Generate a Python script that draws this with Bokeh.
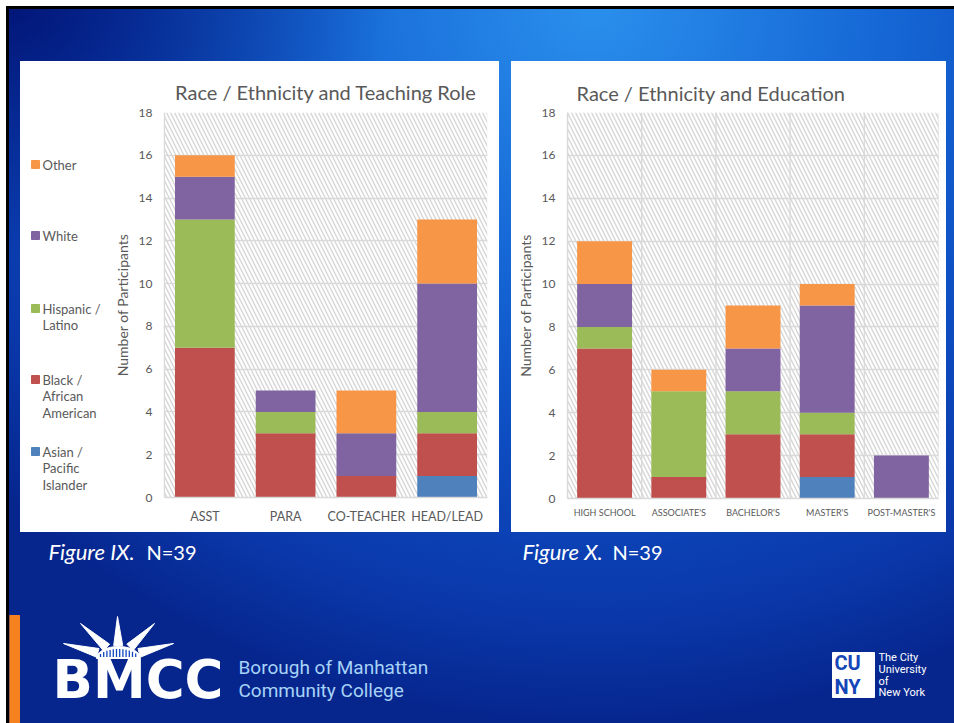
import math
from bokeh.plotting import figure
from bokeh.models import (ColumnDataSource, Range1d, FactorRange, Span, FixedTicker, Spacer)
from bokeh.layouts import column, row
from bokeh.embed import file_html
from bokeh.resources import INLINE
from bokeh.core.properties import value

# ---------------- data ----------------
series = ["Asian / Pacific Islander", "Black / African American", "Hispanic / Latino", "White", "Other"]
series_colors = ["#4F81BD", "#C0504D", "#9BBB59", "#8064A2", "#F79646"]

roles = ["ASST", "PARA", "CO-TEACHER", "HEAD/LEAD"]
role_asian = [0, 0, 0, 1]
role_black = [7, 3, 1, 2]
role_hispanic = [6, 1, 0, 1]
role_white = [2, 1, 2, 6]
role_other = [1, 0, 2, 3]

education = ["HIGH SCHOOL", "ASSOCIATE'S", "BACHELOR'S", "MASTER'S", "POST-MASTER'S"]
edu_asian = [0, 0, 0, 1, 0]
edu_black = [7, 1, 3, 2, 0]
edu_hispanic = [1, 4, 2, 1, 0]
edu_white = [2, 0, 2, 5, 2]
edu_other = [2, 1, 2, 1, 0]

y_ticks = [0, 2, 4, 6, 8, 10, 12, 14, 16, 18]
title_role = "Race / Ethnicity and Teaching Role"
title_edu = "Race / Ethnicity and Education"
y_label = "Number of Participants"
legend_lines = [["Other"], ["White"], ["Hispanic /", "Latino"],
                ["Black /", "African", "American"], ["Asian /", "Pacific", "Islander"]]
legend_colors = ["#F79646", "#8064A2", "#9BBB59", "#C0504D", "#4F81BD"]
caption_italic = ["Figure IX.", "Figure X."]
caption_n = ["N=39", "N=39"]

FONT = "Lato"
GRAY = "#595959"
GRID = "#d9d9d9"


def no_align(p):
    if hasattr(p, "frame_align"):
        p.frame_align = False


def make_chart(title, cats, stacks, width, height, bl, br, bt, bb,
               title_align, title_offset, title_standoff, xsize, xstandoff, vgrid):
    keys = ["s%d" % i for i in range(len(stacks))]
    data = {"cat": cats}
    for k, s in zip(keys, stacks):
        data[k] = s
    src = ColumnDataSource(data)
    p = figure(x_range=FactorRange(*cats), y_range=Range1d(0, 18),
               width=width, height=height, output_backend="svg", toolbar_location=None,
               min_border_left=bl, min_border_right=br, min_border_top=bt, min_border_bottom=bb,
               styles={"background-color": "white"})
    no_align(p)
    p.border_fill_color = "white"
    p.background_fill_color = "white"
    p.outline_line_color = None

    p.title.text = title
    p.title.text_font = FONT
    p.title.text_font_size = "20px"
    p.title.text_font_style = "normal"
    p.title.text_color = GRAY
    p.title.align = title_align
    p.title.offset = title_offset
    p.title.standoff = title_standoff

    # hatched plot-area background
    p.quad(left=[0], right=[len(cats)], bottom=[0], top=[18], fill_color=None, line_color=None,
           hatch_pattern="left_diagonal_line", hatch_color="#d6d6d6", hatch_scale=8,
           hatch_weight=1.4, level="image")

    p.vbar_stack(keys, x="cat", width=0.74, fill_color=series_colors, line_color=None,
                 source=src)

    p.ygrid.grid_line_color = GRID
    p.ygrid.grid_line_width = 1.3
    p.xgrid.grid_line_color = None
    if vgrid:
        for i in range(len(cats) + 1):
            p.add_layout(Span(location=i, dimension="height", line_color=GRID,
                              line_width=1.3, level="underlay"))

    ya = p.yaxis[0]
    ya.ticker = FixedTicker(ticks=y_ticks)
    ya.axis_label = y_label
    ya.axis_label_text_font = FONT
    ya.axis_label_text_font_size = "14px"
    ya.axis_label_text_font_style = "normal"
    ya.axis_label_text_color = GRAY
    ya.axis_label_standoff = 5
    ya.major_label_text_font = FONT
    ya.major_label_text_font_size = "12px"
    ya.major_label_text_color = GRAY
    ya.major_tick_line_color = None
    ya.minor_tick_line_color = None
    ya.major_tick_out = 0
    ya.major_tick_in = 0
    ya.major_label_standoff = 12
    ya.axis_line_color = GRID
    ya.axis_line_width = 1.3

    xa = p.xaxis[0]
    xa.major_label_text_font = FONT
    xa.major_label_text_font_size = xsize
    xa.major_label_text_color = GRAY
    xa.major_tick_line_color = None
    xa.minor_tick_line_color = None
    xa.major_tick_out = 0
    xa.major_label_standoff = xstandoff
    xa.axis_line_color = GRID
    xa.axis_line_width = 1.3
    return p


# ---- legend panel (pixel coordinates relative to the white panel) ----
lg = figure(width=90, height=471, x_range=Range1d(0, 90), y_range=Range1d(471, 0),
            output_backend="svg", toolbar_location=None, min_border=0,
            x_axis_type=None, y_axis_type=None, styles={"background-color": "white"})
no_align(lg)
lg.outline_line_color = None
lg.border_fill_color = "white"
lg.background_fill_color = "white"
lg.xgrid.visible = False
lg.ygrid.visible = False
first_line_y = [103, 174, 247, 318, 390]
line_gap = 16.5
sq_x, sq_y, sq_c = [], [], []
tx, ty, tt = [], [], []
for lines, c, y0 in zip(legend_lines, legend_colors, first_line_y):
    sq_x.append(15)
    sq_y.append(y0)
    sq_c.append(c)
    for j, t in enumerate(lines):
        tx.append(22)
        ty.append(y0 + j * line_gap)
        tt.append(t)
lg.rect(x=sq_x, y=sq_y, width=8, height=8, color=sq_c)
lg.text(x=tx, y=ty, text=tt, text_font=value(FONT), text_font_size="13px",
        text_color=GRAY, text_baseline="middle", text_align="left")

p1 = make_chart(title_role, roles,
                [role_asian, role_black, role_hispanic, role_white, role_other],
                389, 471, 53, 12, 51, 35, "center", 0, 18, "12.5px", 11, False)
p2 = make_chart(title_edu, education,
                [edu_asian, edu_black, edu_hispanic, edu_white, edu_other],
                435, 471, 56, 8, 51, 34, "left", 9, 15, "9px", 8, True)

# ---- bottom band: captions + logos (page pixel coordinates) ----
bt = figure(width=945, height=191, x_range=Range1d(9, 954), y_range=Range1d(723, 532),
            output_backend="svg", toolbar_location=None, min_border=0,
            x_axis_type=None, y_axis_type=None)
no_align(bt)
bt.outline_line_color = None
bt.border_fill_alpha = 0
bt.background_fill_alpha = 0
bt.xgrid.visible = False
bt.ygrid.visible = False

bt.text(x=[48, 522], y=[551, 551], text=caption_italic, text_font=value(FONT),
        text_font_size="22px", text_font_style="italic", text_color="white",
        text_baseline="middle")
bt.text(x=[146, 612], y=[551, 551], text=caption_n, text_font=value(FONT),
        text_font_size="20px", text_color="white", text_baseline="middle")

# orange accent bar
bt.quad(left=[9], right=[19], top=[615], bottom=[723], color="#F5821F")

# BMCC crown
cx, cy, rx, ry = 118, 658, 22, 12
tips = [(63, 643), (80, 623), (117, 616), (154, 623), (173, 643)]
xs, ys = [], []
for (tx0, ty0) in tips:
    dx, dy = tx0 - cx, ty0 - cy
    n = math.hypot(dx, dy)
    ux, uy = dx / n, dy / n
    t = 1.0 / math.sqrt((ux / rx) ** 2 + (uy / ry) ** 2)
    bx, by = cx + ux * (t + 1), cy + uy * (t + 1)
    px, py = -uy, ux
    w = 4.5
    xs.append([tx0, bx + px * w, bx - px * w])
    ys.append([ty0, by + py * w, by - py * w])
bt.patches(xs, ys, color="white")
ang = [math.pi * k / 40 for k in range(41)]
bt.patch([cx + rx * math.cos(a) for a in ang], [cy - ry * math.sin(a) for a in ang],
         color="white")
sx0, sy0, sy1 = [], [], []
xx = cx - rx + 4
while xx <= cx + rx - 4:
    h = ry * math.sqrt(max(0.0, 1 - ((xx - cx) / rx) ** 2))
    sx0.append(xx)
    sy0.append(cy - h + 2.5)
    sy1.append(cy - 1.5)
    xx += 3.2
bt.segment(x0=sx0, y0=sy0, x1=sx0, y1=sy1, line_color="#1048c0", line_width=1.3)
bt.text(x=[52], y=[679], text=["BMCC"], text_font=value("DejaVu Sans"),
        text_font_size="53px", text_font_style="bold", text_color="white",
        text_baseline="middle")
bt.text(x=[238, 238], y=[667, 690], text=["Borough of Manhattan", "Community College"],
        text_font=value("Roboto"), text_font_size="19px", text_color="#a6d3f7",
        text_baseline="middle")

# CUNY logo
bt.quad(left=[832], right=[874], top=[652], bottom=[697], color="white")
bt.text(x=[834, 834], y=[662, 686], text=["CU", "NY"], text_font=value("Roboto"),
        text_font_size="20px", text_font_style="bold", text_color="#1446b8",
        text_baseline="middle")
bt.text(x=[878] * 4, y=[657, 669, 681, 692], text=["The City", "University", "of", "New York"],
        text_font=value("Roboto"), text_font_size="11px", text_color="white",
        text_baseline="middle")

chart_row = row(Spacer(width=11, height=471), lg, p1, Spacer(width=12, height=471), p2,
                Spacer(width=8, height=471))
bg = ("radial-gradient(ellipse 40% 35% at 0% 0%, rgba(0,14,110,0.85) 0%, rgba(0,14,110,0) 100%), "
      "radial-gradient(ellipse 85% 100% at 62% 0%, #2a8fec 0%, #1668d6 35%, #0d4cc0 62%, "
      "#0a38aa 85%, #06268e 100%)")
slide = column(Spacer(width=945, height=52), chart_row, bt, width=945, height=714,
               styles={"background": bg})
framed = column(Spacer(width=948, height=3), row(Spacer(width=3, height=714), slide),
                width=948, height=717, styles={"background": "#000"})
page = column(Spacer(width=954, height=6), row(Spacer(width=6, height=717), framed),
              width=954, height=723)

open("out.html", "w").write(file_html(page, INLINE))
